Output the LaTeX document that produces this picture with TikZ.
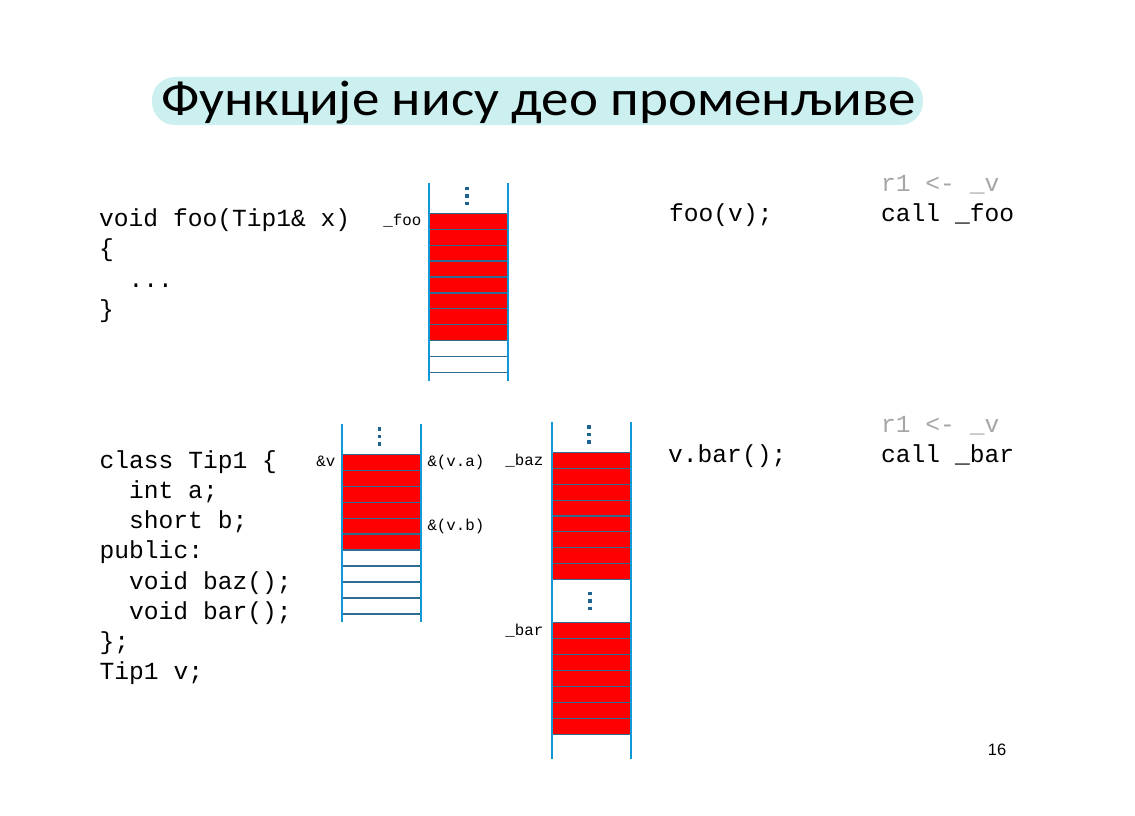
\documentclass[tikz,border=0pt]{standalone}
\usepackage{fontspec}
\usepackage{graphicx}
\setmainfont{Carlito}
\newfontfamily\codefont{Liberation Mono}
\newfontfamily\numfont{Liberation Sans}

\definecolor{titlebg}{RGB}{204,240,240}
\definecolor{railblue}{RGB}{17,152,214}
\definecolor{celledge}{RGB}{46,108,146}
\definecolor{dotblue}{RGB}{31,99,145}
\definecolor{asmgray}{RGB}{166,166,166}

% three small squares marking an elided part of memory
\newcommand\memdots[2]{%
  \foreach \k in {0,1,2}
    \fill[dotblue] ({#1-1.8},{#2+7.5*\k-1.8}) rectangle ({#1+1.8},{#2+7.5*\k+1.8});}

\tikzset{
  code/.style={font=\codefont\fontsize{24.6bp}{30bp}\selectfont, inner sep=0pt, anchor=base west},
  asm/.style={code, text=asmgray},
  lbl/.style={font=\codefont\fontsize{15.8bp}{18bp}\selectfont, inner sep=0pt},
  rail/.style={draw=railblue, line width=2bp},
  memcell/.style={fill=red, draw=celledge, line width=1.2bp},
  freecell/.style={draw=celledge, line width=1.5bp},
}

\begin{document}
\begin{tikzpicture}[x=1bp, y=-1bp]
\useasboundingbox (0,0) rectangle (1135,816);

% title
\fill[titlebg, rounded corners=23bp] (152,77) rectangle (923,125);
\node (title) [anchor=base west, inner sep=0pt, font=\fontsize{50bp}{56bp}\selectfont] at (161,115)
  {\scalebox{1.1}[1]{Функције нису део променљиве}};

% ---- function foo and its code in memory
\node[code] (f1) at (99,226.7) {void foo(Tip1\& x)};
\node[code] (f2) at (99,256.9) {\{};
\node[code] (f3) at (128.5,287.1) {...};
\node[code] (f4) at (99,317.3) {\}};

\foreach \i in {0,...,7}
  \draw[memcell] (429,{213.3+15.93*\i}) rectangle (508,{213.3+15.93*(\i+1)});
\foreach \i in {0,1}
  \draw[freecell] (429,{340.7+16*\i}) rectangle (508,{340.7+16*(\i+1)});
\draw[rail] (429,183) -- (429,380.5);
\draw[rail] (508,183) -- (508,380.5);
\memdots{467}{188.5}
\node[lbl, anchor=base east] (lfoo) at (421.5,225.7) {\_foo};

\node[code] (c1) at (669,221) {foo(v);};
\node[asm] (a1) at (881,191) {r1 <- \_v};
\node[code] (a2) at (881,221) {call \_foo};

% ---- class Tip1, the object v and the methods
\node[code] (t1) at (99.5,468.3) {class Tip1 \{};
\node[code] (t2) at (129,498.5) {int a;};
\node[code] (t3) at (129,528.7) {short b;};
\node[code] (t4) at (99.5,558.9) {public:};
\node[code] (t5) at (129,589.1) {void baz();};
\node[code] (t6) at (129,619.3) {void bar();};
\node[code] (t7) at (99.5,649.5) {\};};
\node[code] (t8) at (99.5,679.7) {Tip1 v;};

% object v
\foreach \i in {0,...,5}
  \draw[memcell] (342,{454.3+15.95*\i}) rectangle (421,{454.3+15.95*(\i+1)});
\foreach \i in {0,...,3}
  \draw[freecell] (342,{550+16*\i}) rectangle (421,{550+16*(\i+1)});
\draw[rail] (342,424) -- (342,622);
\draw[rail] (421,424) -- (421,622);
\memdots{379.5}{429}
\node[lbl, anchor=base east] (lv) at (335.5,466.7) {\&v};
\node[lbl, anchor=base west] (lva) at (427.3,466.7) {\&(v.a)};
\node[lbl, anchor=base west] (lvb) at (427.3,530) {\&(v.b)};

% methods baz and bar
\foreach \i in {0,...,7}
  \draw[memcell] (551.7,{452.7+15.83*\i}) rectangle (630.7,{452.7+15.83*(\i+1)});
\foreach \i in {0,...,6}
  \draw[memcell] (551.7,{622.7+15.94*\i}) rectangle (630.7,{622.7+15.94*(\i+1)});
\draw[rail] (551.7,422) -- (551.7,758.5);
\draw[rail] (630.7,422) -- (630.7,758.5);
\memdots{589}{427}
\memdots{590}{593.5}
\node[lbl, anchor=base east] (lbaz) at (543.5,465) {\_baz};
\node[lbl, anchor=base east] (lbar) at (543.5,635) {\_bar};

\node[code] (c2) at (668,462.5) {v.bar();};
\node[asm] (a3) at (881,432) {r1 <- \_v};
\node[code] (a4) at (881,462.5) {call \_bar};

% slide number
\node[anchor=base east, inner sep=0pt, font=\numfont\fontsize{16.5bp}{18bp}\selectfont] (num) at (1006.5,755) {16};
\end{tikzpicture}
\end{document}
